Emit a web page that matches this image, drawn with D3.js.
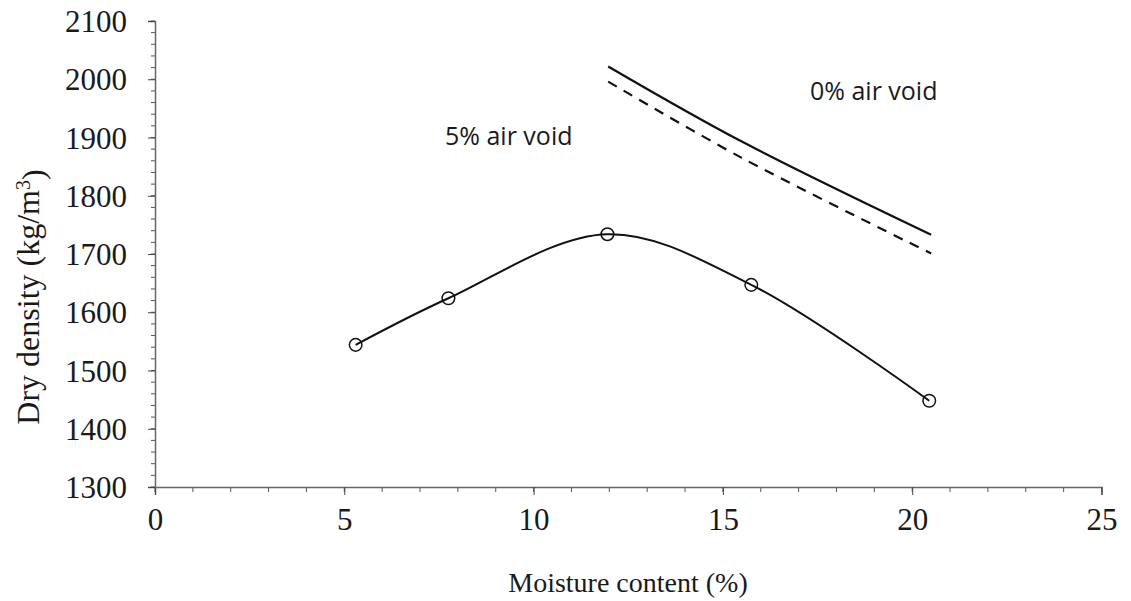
<!DOCTYPE html>
<html>
<head>
<meta charset="utf-8">
<script src="https://cdn.jsdelivr.net/npm/d3@7"></script>
<style>
  html, body { margin: 0; padding: 0; background: #fff; }
  svg { display: block; }
</style>
</head>
<body>
<svg id="chart" width="1131" height="601"></svg>
<script>
// ---- data ----
const moisture = [5.3, 7.75, 11.95, 15.75, 20.45];
const dryDensity = [1544, 1624, 1734, 1647, 1448];

const zavMoisture = [11.97, 15.5, 20.5];
const zavDensity = [2022, 1893, 1733];

const av5Moisture = [11.97, 15.5, 20.5];
const av5Density = [1996, 1865, 1701];

const xTicks = [0, 5, 10, 15, 20, 25];
const yTicks = [1300, 1400, 1500, 1600, 1700, 1800, 1900, 2000, 2100];

const labels = [
  { text: "5% air void", x: 7.66, y: 1887 },
  { text: "0% air void", x: 17.3, y: 1964 }
];

// ---- layout ----
const svg = d3.select("#chart");
const x = d3.scaleLinear().domain([0, 25]).range([155, 1101.5]);
const y = d3.scaleLinear().domain([1300, 2100]).range([487, 21]);

const serif = "'Liberation Serif', 'Times New Roman', serif";
const sans = "'Open Sans', 'Liberation Sans', sans-serif";

// minor ticks
const xMinor = d3.range(0, 25.001, 1);
const yMinor = d3.range(1300, 2100.001, 20);

svg.append("g").selectAll("line").data(xMinor).join("line")
  .attr("x1", d => x(d)).attr("x2", d => x(d))
  .attr("y1", y(1300)).attr("y2", y(1300) + 5)
  .attr("stroke", "#555").attr("stroke-width", 1);
svg.append("g").selectAll("line").data(yMinor).join("line")
  .attr("x1", x(0) - 4).attr("x2", x(0))
  .attr("y1", d => y(d)).attr("y2", d => y(d))
  .attr("stroke", "#555").attr("stroke-width", 1);

// axes
const xAxis = d3.axisBottom(x).tickValues(xTicks).tickSize(8).tickPadding(14).tickFormat(d3.format("d"));
const yAxis = d3.axisLeft(y).tickValues(yTicks).tickSize(7).tickPadding(21).tickFormat(d3.format("d"));

const gx = svg.append("g").attr("transform", `translate(0,${y(1300)})`).call(xAxis);
const gy = svg.append("g").attr("transform", `translate(${x(0)},0)`).call(yAxis);

[gx, gy].forEach(g => {
  g.select(".domain").attr("stroke", "#666").attr("stroke-width", 1.5);
  g.selectAll(".tick line").attr("stroke", "#444").attr("stroke-width", 1);
  g.selectAll(".tick text").attr("fill", "#1a1a1a")
    .style("font-family", serif).style("font-size", "31px");
});
gy.selectAll(".tick text").attr("dy", "0.34em");
gx.selectAll(".tick text").attr("dy", "0.68em");

// axis titles
svg.append("text")
  .attr("x", 628).attr("y", 592)
  .attr("text-anchor", "middle")
  .style("font-family", serif).style("font-size", "28px").attr("fill", "#1a1a1a")
  .text("Moisture content (%)");

const yt = svg.append("text")
  .attr("transform", "translate(39,297) rotate(-90)")
  .attr("text-anchor", "middle")
  .style("font-family", serif).style("font-size", "32px").attr("fill", "#1a1a1a");
yt.append("tspan").text("Dry density (kg/m");
yt.append("tspan").attr("dy", "-0.45em").style("font-size", "20px").text("3");
yt.append("tspan").attr("dy", "0.45em").text(")");

// lines
const lineGen = d3.line().x(d => x(d[0])).y(d => y(d[1])).curve(d3.curveCatmullRom.alpha(0.5));

svg.append("path")
  .datum(d3.zip(zavMoisture, zavDensity))
  .attr("d", lineGen).attr("fill", "none")
  .attr("stroke", "#111").attr("stroke-width", 2.2);

svg.append("path")
  .datum(d3.zip(av5Moisture, av5Density))
  .attr("d", lineGen).attr("fill", "none")
  .attr("stroke", "#111").attr("stroke-width", 2.2)
  .attr("stroke-dasharray", "10,8");

svg.append("path")
  .datum(d3.zip(moisture, dryDensity))
  .attr("d", lineGen).attr("fill", "none")
  .attr("stroke", "#111").attr("stroke-width", 2);

svg.append("g").selectAll("circle").data(d3.zip(moisture, dryDensity)).join("circle")
  .attr("cx", d => x(d[0])).attr("cy", d => y(d[1])).attr("r", 6.3)
  .attr("fill", "none").attr("stroke", "#111").attr("stroke-width", 1.5);

// annotations
svg.append("g").selectAll("text").data(labels).join("text")
  .attr("x", d => x(d.x)).attr("y", d => y(d.y))
  .style("font-family", sans).style("font-size", "25px").attr("fill", "#1a1a1a")
  .text(d => d.text);
</script>
</body>
</html>
